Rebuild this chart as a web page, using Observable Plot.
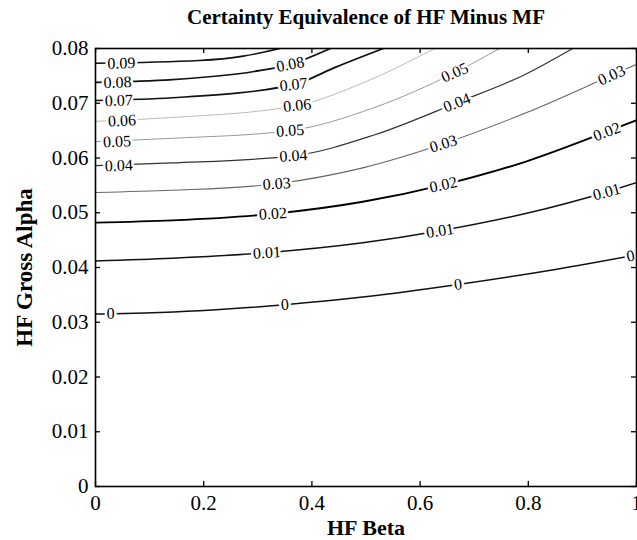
<!DOCTYPE html>
<html><head><meta charset="utf-8">
<script src="https://cdn.jsdelivr.net/npm/d3@7"></script>
<script src="https://cdn.jsdelivr.net/npm/@observablehq/plot@0.6"></script>
<style>
body{margin:0;background:#fff;}
#chart{width:637px;height:540px;}
svg{font-family:"Liberation Serif","Times New Roman",serif;}
</style></head><body><div id="chart"></div>
<script>
// ---- data ----
const titleText = "Certainty Equivalence of HF Minus MF";
const xLabel = "HF Beta";
const yLabel = "HF Gross Alpha";
const xTicks = [0, 0.2, 0.4, 0.6, 0.8, 1];
const xTickLabels = ["0", "0.2", "0.4", "0.6", "0.8", "1"];
const yTicks = [0, 0.01, 0.02, 0.03, 0.04, 0.05, 0.06, 0.07, 0.08];
const yTickLabels = ["0", "0.01", "0.02", "0.03", "0.04", "0.05", "0.06", "0.07", "0.08"];

const levels = [0, 0.01, 0.02, 0.03, 0.04, 0.05, 0.06, 0.07, 0.08, 0.09];
const levelLabels = ["0", "0.01", "0.02", "0.03", "0.04", "0.05", "0.06", "0.07", "0.08", "0.09"];

// contour paths: [beta, alpha]
const contour000 = [[0,.0315],[.092,.0317],[.192,.0321],[.350,.0332],[.494,.0346],[.670,.0369],[.847,.0396],[1,.0423]];
const contour001 = [[0,.0412],[.142,.0417],[.317,.0427],[.494,.0445],[.637,.0467],[.797,.0499],[.945,.0538],[1,.0555]];
const contour002 = [[0,.0482],[.142,.0486],[.328,.0498],[.494,.0520],[.643,.0551],[.797,.0594],[.945,.0648],[1,.0669]];
const contour003 = [[0,.0537],[.142,.0541],[.335,.0553],[.494,.0582],[.643,.0626],[.797,.0683],[.954,.0751],[1,.0771]];
const contour004 = [[0,.0586],[.142,.0591],[.366,.0604],[.515,.0642],[.668,.0701],[.797,.0754],[.882,.0800]];
const contour005 = [[0,.0630],[.142,.0636],[.360,.0650],[.515,.0692],[.664,.0756],[.747,.0800]];
const contour006 = [[0,.0667],[.142,.0674],[.373,.0696],[.494,.0737],[.627,.0800]];
const contour007 = [[0,.0705],[.142,.0710],[.366,.0734],[.444,.0766],[.532,.0800]];
const contour008 = [[0,.0738],[.142,.0743],[.293,.0758],[.360,.0771],[.434,.0800]];
const contour009 = [[0,.0773],[.192,.0778],[.273,.0786],[.341,.0800]];
const contours = [contour000, contour001, contour002, contour003, contour004,
                  contour005, contour006, contour007, contour008, contour009];

// inline label positions: [levelIndex, beta, alpha]
const labelSpots = [
  [0,.028,.0316],[0,.350,.0332],[0,.670,.0369],[0,.989,.0421],
  [1,.317,.0427],[1,.637,.0467],[1,.945,.0538],
  [2,.328,.0498],[2,.643,.0551],[2,.945,.0648],
  [3,.335,.0553],[3,.643,.0626],[3,.954,.0751],
  [4,.043,.0586],[4,.366,.0604],[4,.668,.0701],
  [5,.040,.0630],[5,.360,.0650],[5,.664,.0756],
  [6,.049,.0668],[6,.373,.0696],
  [7,.043,.0705],[7,.366,.0734],
  [8,.041,.0738],[8,.360,.0771],
  [9,.048,.0773]
];

// ---- styles (scan look: some contours print lighter) ----
const lineStroke = ["#111","#111","#000","#666","#333","#999","#bbb","#111","#111","#111"];
const lineWidth  = [1.5,1.5,1.9,1.1,1.2,1.0,1.0,1.7,1.7,1.6];

const W = 637, H = 540;
const mL = 95, mR = 1, mT = 48, mB = 54;
const frameW = W - mL - mR, frameH = H - mT - mB, tickLen = 5;
const base = {
  width: W, height: H,
  marginLeft: mL, marginRight: mR, marginTop: mT, marginBottom: mB,
  x: {domain: [0, 1]},
  y: {domain: [0, 0.08]}
};

// preliminary plot to get the scales for label rotation
const probe = Plot.plot({...base, marks: [Plot.frame()]});
const sx = probe.scale("x"), sy = probe.scale("y");

function angleAt(pts, b) {
  let i = 0;
  while (i < pts.length - 2 && b > pts[i + 1][0]) i++;
  const p0 = pts[i], p1 = pts[i + 1];
  const dx = sx.apply(p1[0]) - sx.apply(p0[0]);
  const dy = sy.apply(p1[1]) - sy.apply(p0[1]);
  return Math.atan2(dy, dx) * 180 / Math.PI;
}

const labelData = labelSpots.map(([k, b, a]) => ({
  beta: b, alpha: a, text: levelLabels[k], angle: angleAt(contours[k], b)
}));

const lineMarks = contours.map((pts, k) =>
  Plot.line(pts, {x: d => d[0], y: d => d[1], stroke: lineStroke[k], strokeWidth: lineWidth[k],
                  curve: "monotone-x", clip: true}));

const tk = {stroke: "#000", strokeWidth: 1.3};

const chart = Plot.plot({
  ...base,
  style: {fontFamily: '"Liberation Serif","Times New Roman",serif', background: "#fff", color: "#000"},
  marks: [
    ...lineMarks,
    Plot.text(labelData, {x: "beta", y: "alpha", text: "text", rotate: "angle",
      fontSize: 16, fill: "#000", stroke: "#fff", strokeWidth: 5, textAnchor: "middle"}),
    // inward ticks on all four sides
    Plot.tickX(xTicks, {x: d => d, insetTop: frameH - tickLen, ...tk}),
    Plot.tickX(xTicks, {x: d => d, insetBottom: frameH - tickLen, ...tk}),
    Plot.tickY(yTicks, {y: d => d, insetRight: frameW - tickLen, ...tk}),
    Plot.tickY(yTicks, {y: d => d, insetLeft: frameW - tickLen, ...tk}),
    Plot.axisX({anchor: "bottom", ticks: xTicks, tickFormat: (d, i) => xTickLabels[i],
      tickSize: 0, tickPadding: 9, fontSize: 21, label: null}),
    Plot.axisY({anchor: "left", ticks: yTicks, tickFormat: (d, i) => yTickLabels[i],
      tickSize: 0, tickPadding: 7, fontSize: 21, label: null}),
    Plot.frame({stroke: "#000", strokeWidth: 1.6}),
    Plot.text([titleText], {frameAnchor: "top", dy: -31, lineAnchor: "middle", textAnchor: "middle",
      fontSize: 21, fontWeight: "bold", text: d => d}),
    Plot.text([xLabel], {frameAnchor: "bottom", dy: 41, lineAnchor: "middle", textAnchor: "middle",
      fontSize: 22, fontWeight: "bold", text: d => d}),
    Plot.text([yLabel], {frameAnchor: "left", dx: -71, rotate: -90, lineAnchor: "middle", textAnchor: "middle",
      fontSize: 23, fontWeight: "bold", text: d => d})
  ]
});
document.getElementById("chart").appendChild(chart);
</script>
</body></html>
